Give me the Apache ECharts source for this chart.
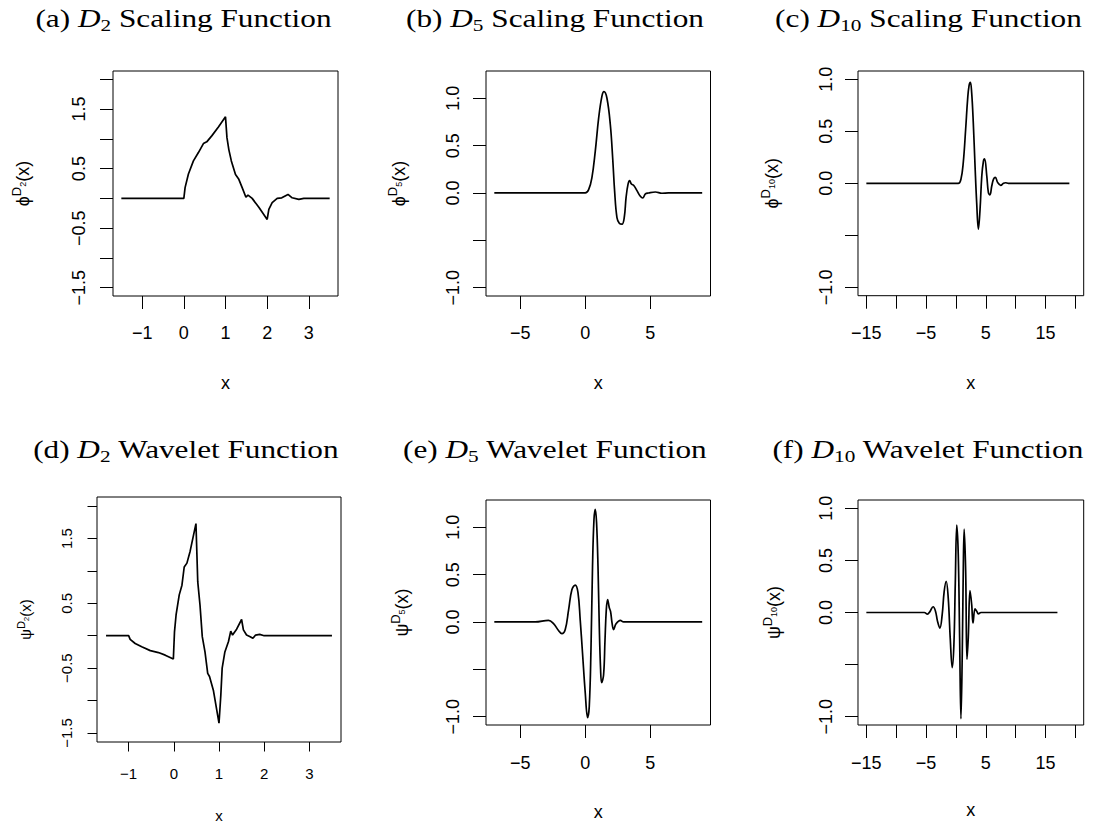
<!DOCTYPE html>
<html><head><meta charset="utf-8">
<script src="https://cdn.jsdelivr.net/npm/echarts@6/dist/echarts.min.js"></script>
<style>html,body{margin:0;padding:0;background:#fff}#c{width:1101px;height:827px}</style>
</head><body><div id="c"></div>
<script>
// ---- data (x, y pairs) ----
const phiD2 = [[-1.5,0],[0,0],[0.03,0.18],[0.11,0.41],[0.23,0.63],[0.35,0.77],[0.47,0.92],[0.55,0.95],[0.67,1.05],[0.83,1.20],[1.0,1.37],[1.035,1.02],[1.08,0.82],[1.14,0.63],[1.24,0.40],[1.32,0.32],[1.40,0.18],[1.49,0.02],[1.54,0.055],[1.64,0.0],[1.80,-0.15],[2.0,-0.354],[2.04,-0.185],[2.12,-0.07],[2.24,0.0],[2.35,0.01],[2.5,0.067],[2.6,0.01],[2.76,-0.017],[2.88,0],[3.5,0]];
const phiD5 = [[-7,0],[0,0],[0.26,0.035],[0.51,0.16],[0.77,0.44],[1.03,0.79],[1.28,1.02],[1.44,1.07],[1.67,1.0],[1.93,0.72],[2.11,0.37],[2.26,0.02],[2.44,-0.26],[2.62,-0.32],[2.83,-0.33],[3.01,-0.25],[3.14,-0.05],[3.29,0.09],[3.42,0.13],[3.55,0.095],[3.75,0.077],[3.98,0.025],[4.24,-0.035],[4.42,-0.053],[4.63,-0.01],[4.88,0],[5.4,0.01],[5.9,-0.003],[6.4,0],[9,0]];
const phiD10 = [[-15,0],[0.39,0],[0.84,0.04],[1.23,0.2],[1.63,0.52],[1.96,0.81],[2.2,0.94],[2.42,0.97],[2.64,0.87],[2.91,0.58],[3.2,0.17],[3.48,-0.19],[3.76,-0.44],[4.04,-0.25],[4.33,0.07],[4.6,0.21],[4.8,0.235],[5.17,0.07],[5.44,-0.09],[5.7,-0.11],[6.0,-0.026],[6.3,0.04],[6.6,0.058],[7.0,0.007],[7.5,-0.019],[7.97,0.0],[8.3,0.006],[8.8,0],[19,0]];
const psiD2 = [[-1.5,0],[-1.0,0],[-0.966,-0.056],[-0.855,-0.12],[-0.71,-0.17],[-0.52,-0.23],[-0.34,-0.26],[-0.19,-0.30],[-0.01,-0.36],[0.015,0.06],[0.05,0.32],[0.12,0.63],[0.18,0.78],[0.23,1.06],[0.29,1.12],[0.36,1.30],[0.49,1.73],[0.53,0.83],[0.58,0.47],[0.63,-0.015],[0.69,-0.25],[0.75,-0.58],[0.79,-0.63],[0.875,-0.84],[1.0,-1.35],[1.04,-0.92],[1.07,-0.50],[1.13,-0.25],[1.21,-0.09],[1.26,0.07],[1.30,0.01],[1.39,0.10],[1.50,0.25],[1.54,0.09],[1.61,0.01],[1.69,-0.015],[1.75,-0.04],[1.81,0.01],[1.9,0.02],[2.0,0],[3.5,0]];
const psiD5 = [[-7,0],[-3.86,0],[-2.83,0.017],[-2.44,-0.018],[-2.06,-0.09],[-1.80,-0.124],[-1.54,-0.08],[-1.28,0.13],[-1.03,0.34],[-0.77,0.39],[-0.56,0.31],[-0.39,0.025],[-0.21,-0.33],[0,-0.75],[0.18,-1.01],[0.31,-0.89],[0.44,-0.29],[0.56,0.59],[0.67,1.08],[0.77,1.19],[0.87,1.05],[0.98,0.59],[1.08,-0.05],[1.18,-0.50],[1.26,-0.64],[1.41,-0.56],[1.52,-0.19],[1.62,0.13],[1.72,0.235],[1.85,0.15],[1.95,0.11],[2.06,-0.01],[2.18,-0.08],[2.37,-0.02],[2.70,0.017],[2.95,0],[9,0]];
const psiD10 = [[-15,0],[-5.3,0],[-4.77,-0.015],[-4.38,0.006],[-3.82,0.055],[-3.42,0.013],[-3.09,-0.083],[-2.69,-0.15],[-2.3,-0.02],[-1.97,0.20],[-1.63,0.30],[-1.29,0.14],[-0.96,-0.24],[-0.62,-0.53],[-0.34,-0.31],[-0.11,0.27],[0.14,0.84],[0.39,0.56],[0.62,-0.24],[0.84,-1.02],[1.06,-0.40],[1.23,0.40],[1.38,0.80],[1.63,0.40],[1.85,-0.45],[2.07,-0.24],[2.36,0.21],[2.64,0.077],[2.86,-0.10],[3.2,0.035],[3.48,0.013],[3.76,-0.013],[4.2,0],[17,0]];

// ---- tick values / labels ----
const xTicksD2 = [-1,0,1,2,3];
const xLabelsD2 = [-1,0,1,2,3];
const yTicksD2 = [-1.5,-1,-0.5,0,0.5,1,1.5,2];
const yLabelsD2 = [-1.5,-0.5,0.5,1.5];
const xTicksD5 = [-5,0,5];
const xLabelsD5 = [-5,0,5];
const yTicksD5 = [-1,-0.5,0,0.5,1];
const yLabelsD5 = [-1,0,0.5,1];
const xTicksD10 = [-15,-10,-5,0,5,10,15,20];
const xLabelsD10 = [-15,-5,5,15];
const yTicksD10 = [-1,-0.5,0,0.5,1];
const yLabelsD10 = [-1,0,0.5,1];

const titleTags = ['(a)','(b)','(c)','(d)','(e)','(f)'];
const titleOrders = ['2','5','10','2','5','10'];
const titleKinds = ['Scaling Function','Scaling Function','Scaling Function','Wavelet Function','Wavelet Function','Wavelet Function'];
const yNameSymbols = ['ϕ','ϕ','ϕ','ψ','ψ','ψ'];
const xName = 'x';

// ---- layout ----
const panels = [
 {data:phiD2, g:[113,71,225,225], xr:[-1.7,3.7], yr:[-1.64,2.14], xt:xTicksD2, xl:xLabelsD2, yt:yTicksD2, yl:yLabelsD2, fs:18, tk:13, ylm:25, xlm:28, yng:76, xng:78, tx:183.5, ty:18.5, sm:false},
 {data:phiD5, g:[486,71,224.5,225], xr:[-7.64,9.64], yr:[-1.088,1.288], xt:xTicksD5, xl:xLabelsD5, yt:yTicksD5, yl:yLabelsD5, fs:18, tk:13, ylm:24, xlm:28, yng:73, xng:78, tx:555, ty:18.5, sm:0.4},
 {data:phiD10, g:[858,71,225.7,224.7], xr:[-16.4,21.4], yr:[-1.08,1.08], xt:xTicksD10, xl:xLabelsD10, yt:yTicksD10, yl:yLabelsD10, fs:18, tk:13, ylm:23, xlm:28.5, yng:72, xng:78, tx:928.5, ty:18.5, sm:0.4},
 {data:psiD2, g:[97,497,244,245], xr:[-1.7,3.7], yr:[-1.64,2.14], xt:xTicksD2, xl:xLabelsD2, yt:yTicksD2, yl:yLabelsD2, fs:15, tk:9.5, ylm:23, xlm:24, yng:60, xng:66, tx:186, ty:450, sm:false},
 {data:psiD5, g:[486,500,224.5,225], xr:[-7.64,9.64], yr:[-1.088,1.288], xt:xTicksD5, xl:xLabelsD5, yt:yTicksD5, yl:yLabelsD5, fs:18, tk:13, ylm:24, xlm:29.3, yng:70, xng:77.5, tx:555, ty:450, sm:0.4},
 {data:psiD10, g:[858,500,225.7,225], xr:[-16.4,21.4], yr:[-1.08,1.08], xt:xTicksD10, xl:xLabelsD10, yt:yTicksD10, yl:yLabelsD10, fs:18, tk:13, ylm:23, xlm:29.3, yng:70, xng:76, tx:928, ty:450, sm:0.4}
];

const SANS = 'Liberation Sans';
const SERIF = 'Liberation Serif';
const minus = v => (v < 0 ? '\u2212' : '') + Math.abs(v);
const fmtY = v => (v < 0 ? '\u2212' : '') + Math.abs(v).toFixed(1);

const option = {animation:false, backgroundColor:'#fff', graphic:[], grid:[], xAxis:[], yAxis:[], series:[]};

panels.forEach((p, i) => {
  const fs = p.fs;
  const ts = 25;
  option.graphic.push({
    type:'text', x:p.tx, y:p.ty, scaleX:1.25, scaleY:1, silent:true,
    style:{
      text: '{n|' + titleTags[i] + ' }{i|D}{s|' + titleOrders[i] + '}{n| ' + titleKinds[i] + '}',
      align:'center', verticalAlign:'middle', fill:'#000', fontFamily:SERIF, fontSize:ts,
      rich: {
        n: {fontFamily:SERIF, fontSize:ts, lineHeight:30, fill:'#000'},
        i: {fontFamily:SERIF, fontSize:ts, lineHeight:30, fontStyle:'italic', fill:'#000'},
        s: {fontFamily:SERIF, fontSize:17, lineHeight:17, verticalAlign:'top', padding:[13,0,0,0], fill:'#000'}
      }
    }
  });
  option.grid.push({left:p.g[0], top:p.g[1], width:p.g[2], height:p.g[3], show:true, borderColor:'#000', borderWidth:1, containLabel:false, outerBoundsMode:'none'});
  option.xAxis.push({
    type:'value', gridIndex:i, min:p.xr[0], max:p.xr[1],
    name: xName, nameLocation:'middle', nameGap:p.xng, nameMoveOverlap:false,
    nameTextStyle:{fontFamily:SANS, fontSize:fs, color:'#000'},
    axisLine:{show:false, onZero:false}, splitLine:{show:false},
    axisTick:{show:true, inside:false, length:p.tk, customValues:p.xt, lineStyle:{color:'#000', width:1}},
    axisLabel:{show:true, customValues:p.xl, margin:p.xlm, fontFamily:SANS, fontSize:fs, color:'#000', formatter:minus}
  });
  const sub = titleOrders[i];
  const sfs = Math.round(fs*0.72), ssfs = Math.round(fs*0.5);
  option.yAxis.push({
    type:'value', gridIndex:i, min:p.yr[0], max:p.yr[1],
    name: '{m|' + yNameSymbols[i] + '}{s|D}{ss|' + sub + '}{m|(x)}',
    nameLocation:'middle', nameRotate:90, nameGap:p.yng, nameMoveOverlap:false,
    nameTextStyle:{fontFamily:SANS, fontSize:fs, color:'#000',
      rich:{
        m:{fontFamily:SANS, fontSize:fs, lineHeight:Math.round(fs*1.55), color:'#000'},
        s:{fontFamily:SANS, fontSize:sfs, lineHeight:sfs, verticalAlign:'top', padding:[1,0,0,0], color:'#000'},
        ss:{fontFamily:SANS, fontSize:ssfs, lineHeight:ssfs, verticalAlign:'top', padding:[Math.round(fs*0.5),0,0,0], color:'#000'}
      }},
    axisLine:{show:false, onZero:false}, splitLine:{show:false},
    axisTick:{show:true, inside:false, length:p.tk, customValues:p.yt, lineStyle:{color:'#000', width:1}},
    axisLabel:{show:true, customValues:p.yl, rotate:90, margin:p.ylm, fontFamily:SANS, fontSize:fs, color:'#000', formatter:fmtY}
  });
  option.series.push({
    type:'line', xAxisIndex:i, yAxisIndex:i, data:p.data, showSymbol:false, symbol:'none',
    smooth:p.sm, lineStyle:{color:'#000', width:1.7}, silent:true, clip:true
  });
});

const chart = echarts.init(document.getElementById('c'), null, {renderer:'svg'});
chart.setOption(option);
</script></body></html>
